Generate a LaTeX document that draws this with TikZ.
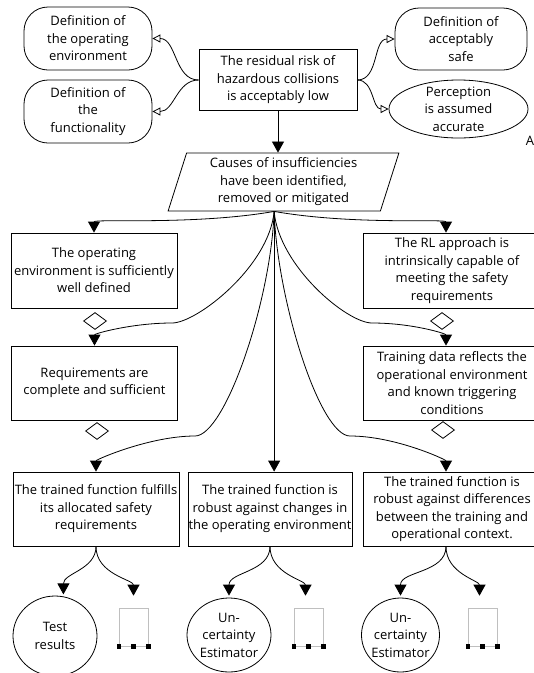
\documentclass[tikz,border=0pt]{standalone}
\usepackage{fontspec}
\setmainfont{Open Sans}
\usetikzlibrary{arrows.meta,shapes.geometric,positioning,calc}

\begin{document}
\begin{tikzpicture}[x=1pt, y=-1pt,
    font=\fontsize{13}{17.5}\selectfont,
    goalbox/.style={draw, line width=0.8pt, align=center, minimum width=166pt, inner xsep=0pt, inner ysep=0pt, minimum height=74pt},
    ctxbox/.style={draw, line width=0.8pt, rounded corners=24pt, align=center, minimum width=128pt, minimum height=63pt, inner sep=0pt},
    asmbox/.style={draw, line width=0.8pt, ellipse, align=center, inner xsep=0pt, inner ysep=-9pt},
    strat/.style={draw, line width=0.8pt, trapezium, trapezium left angle=73.7, trapezium right angle=106.3, trapezium stretches=true, align=center, minimum width=231pt, minimum height=58pt, inner sep=0pt},
    undev/.style={draw, line width=0.8pt, diamond, minimum width=23pt, minimum height=17pt, inner sep=0pt},
    solnode/.style={draw, line width=0.8pt, ellipse, align=center, inner xsep=-8pt, inner ysep=-9pt},
    morebox/.style={draw=black!25, line width=0.6pt, minimum width=29pt, minimum height=38pt, inner sep=0pt},
    arr/.style={-{Triangle[length=11pt, width=12pt]}, line width=0.8pt},
    ctxarr/.style={-{Triangle[open, length=8pt, width=8pt]}, line width=0.8pt}
]
\useasboundingbox (0,0) rectangle (534,673);
\clip (0,0) rectangle (534,673);

% top goal and its context
\node[goalbox, minimum width=158pt, minimum height=61pt] (goal) at (278,80) {The residual risk of\\hazardous collisions\\is acceptably low};
\node[ctxbox] (ctxenv) at (88,38.5) {Definition of\\the operating\\environment};
\node[ctxbox] (ctxfun) at (88,111.5) {Definition of\\the\\functionality};
\node[ctxbox, minimum width=132pt, minimum height=62pt] (ctxsafe) at (461,39) {Definition of\\acceptably\\safe};
\node[asmbox, minimum width=139pt, minimum height=58pt] (assump) at (458.5,109) {Perception\\is assumed\\accurate};
\node (asmA) at (530,141) {A};

\draw[ctxarr] (goal.west) to[out=180, in=0] (ctxenv.east);
\draw[ctxarr] (goal.west) to[out=180, in=0] (ctxfun.east);
\draw[ctxarr] (goal.east) to[out=0, in=180] (ctxsafe.west);
\draw[ctxarr] (goal.east) to[out=0, in=180] (assump.west);

% strategy
\node[strat] (strat) at (283.5,182) {Causes of insufficiencies\\have been identified,\\removed or mitigated};
\draw[arr] (goal.south) -- (goal.south |- strat.north);
\coordinate (split) at ($(strat.bottom left corner)!0.5!(strat.bottom right corner)$);

% sub-goals
\node[goalbox, minimum height=75pt] (openv) at (94,270.5) {The operating\\environment is sufficiently\\well defined};
\node[goalbox, minimum width=178pt, minimum height=75pt] (rlok) at (452,270.5) {The RL approach is\\intrinsically capable of\\meeting the safety\\requirements};
\node[goalbox] (req) at (94.5,383) {Requirements are\\complete and sufficient};
\node[goalbox, minimum width=178pt] (data) at (452,383) {Training data reflects the\\operational environment\\and known triggering\\conditions};
\node[goalbox] (fulfil) at (96,509) {The trained function fulfills\\its allocated safety\\requirements};
\node[goalbox, minimum width=164pt] (robust) at (270,509) {The trained function is\\robust against changes in\\the operating environment};
\node[goalbox, minimum width=178pt] (diff) at (452,509) {The trained function is\\robust against differences\\between the training and\\operational context.};

\node[undev] (openvU) at (95,321) {};
\node[undev] (rlokU) at (442,321) {};
\node[undev] (reqU) at (97,431) {};
\node[undev] (dataU) at (443,430) {};

% bends of the long links
\coordinate (kneeReq) at (172,323);
\coordinate (kneeData) at (372,323);
\coordinate (kneeFul) at (195,436);
\coordinate (kneeDiff) at (350,436);

\draw[arr] (split) to[out=190, in=90, out distance=80pt, in distance=14pt] (openv.north);
\draw[arr] (split) to[out=-10, in=90, out distance=80pt, in distance=14pt] ($(rlok.north)+(-6,0)$);
\draw[arr] (split) to[out=-95, in=0, out distance=55pt, in distance=25pt] (kneeReq)
  to[out=180, in=90, out distance=40pt, in distance=12pt] (req.north);
\draw[arr] (split) to[out=-85, in=180, out distance=55pt, in distance=25pt] (kneeData)
  to[out=0, in=90, out distance=40pt, in distance=12pt] ($(data.north)+(-6,0)$);
\draw[arr] (split) to[out=-92, in=0, out distance=90pt, in distance=30pt] (kneeFul)
  to[out=180, in=90, out distance=45pt, in distance=12pt] (fulfil.north);
\draw[arr] (split) -- (split |- robust.north);
\draw[arr] (split) to[out=-88, in=180, out distance=90pt, in distance=30pt] (kneeDiff)
  to[out=0, in=90, out distance=45pt, in distance=12pt] ($(diff.north)+(-6,0)$);

% solutions
\node[solnode, minimum width=84pt, minimum height=80pt] (test) at (55,636) {Test\\results};
\node[solnode, minimum width=84pt, minimum height=74pt] (unc) at (229,635) {Un-\\certainty\\Estimator};
\node[solnode, minimum width=78pt, minimum height=74pt] (unc2) at (400.5,635) {Un-\\certainty\\Estimator};
\node[morebox] (testMore) at (133.5,627) {};
\node[morebox] (uncMore) at (308.5,627) {};
\node[morebox] (unc2More) at (482.5,627) {};
\foreach \n in {testMore,uncMore,unc2More}
  \foreach \a in {south west,south,south east}
    \fill ($(\n.\a)+(-2.2,-2.2)$) rectangle ++(4.4,4.4);

\draw[arr, shorten >=2pt] (fulfil.south) to[out=-90, in=90] (test.78);
\draw[arr, shorten >=12pt] (fulfil.south) to[out=-90, in=90] (testMore.north);
\draw[arr, shorten >=2pt] (robust.south) to[out=-90, in=90] (unc.north);
\draw[arr, shorten >=12pt] (robust.south) to[out=-90, in=90] ($(uncMore.north)+(-3,0)$);
\draw[arr, shorten >=2pt] ($(diff.south)+(-6,0)$) to[out=-90, in=90] (unc2.north);
\draw[arr, shorten >=12pt] ($(diff.south)+(-6,0)$) to[out=-90, in=90] ($(unc2More.north)+(-3,0)$);
\end{tikzpicture}
\end{document}
